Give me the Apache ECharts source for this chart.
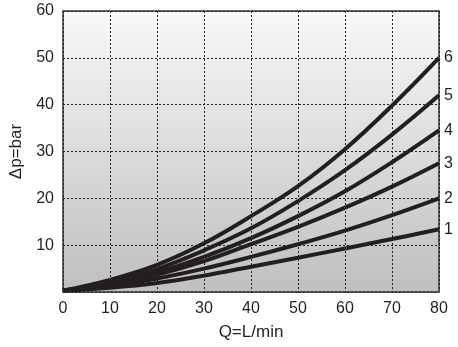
<!DOCTYPE html>
<html>
<head>
<meta charset="utf-8">
<script src="https://cdn.jsdelivr.net/npm/echarts@6/dist/echarts.min.js"></script>
<style>
  html, body { margin: 0; padding: 0; background: #fff; }
  #chart { width: 458px; height: 347px; }
</style>
</head>
<body>
<div id="chart"></div>
<script>
// flow Q (L/min)
const flow = [0, 10, 20, 30, 40, 50, 60, 70, 80];
// pressure drop curves
const curve1 = [0.3, 0.9, 1.9, 3.5, 5.4, 7.3, 9.3, 11.3, 13.4];
const curve2 = [0.3, 1.3, 2.9, 5.0, 7.5, 10.2, 13.1, 16.4, 20.0];
const curve3 = [0.3, 1.6, 3.7, 6.6, 10.2, 13.9, 18.0, 22.5, 27.5];
const curve4 = [0.3, 1.8, 4.2, 7.5, 11.5, 16.2, 21.5, 27.7, 34.5];
const curve5 = [0.3, 2.0, 4.9, 8.9, 13.6, 19.4, 26.0, 33.6, 42.0];
const curve6 = [0.3, 2.6, 5.8, 10.4, 16.2, 22.6, 30.5, 39.8, 50.0];
const curveNames = ['1', '2', '3', '4', '5', '6'];
const curves = [curve1, curve2, curve3, curve4, curve5, curve6];

const chart = echarts.init(document.getElementById('chart'));

const textColor = '#231f20';
const font = 'Liberation Sans, Arial, sans-serif';

chart.setOption({
    animation: false,
    grid: {
        left: 63,
        top: 11,
        right: 19,
        bottom: 55,
        show: true,
        borderColor: '#333',
        borderWidth: 1.5,
        backgroundColor: {
            type: 'linear', x: 0, y: 0, x2: 0, y2: 1,
            colorStops: [
                { offset: 0, color: '#f8f8f8' },
                { offset: 1, color: '#bfbfbf' }
            ]
        }
    },
    xAxis: {
        type: 'value',
        min: 0,
        max: 80,
        interval: 10,
        name: 'Q=L/min',
        nameLocation: 'middle',
        nameGap: 32,
        nameTextStyle: { color: textColor, fontSize: 17, fontFamily: font },
        axisLine: { show: false },
        axisTick: { show: false },
        axisLabel: { color: textColor, fontSize: 16, fontFamily: font, margin: 9 },
        splitLine: { lineStyle: { color: '#222', type: [2, 2], width: 1 } }
    },
    yAxis: {
        type: 'value',
        min: 0,
        max: 60,
        interval: 10,
        name: 'Δp=bar',
        nameLocation: 'middle',
        nameGap: 30,
        nameTextStyle: { color: textColor, fontSize: 17, fontFamily: font },
        axisLine: { show: false },
        axisTick: { show: false },
        axisLabel: {
            color: textColor, fontSize: 16, fontFamily: font, margin: 9,
            formatter: v => (v === 0 ? '' : v)
        },
        splitLine: { lineStyle: { color: '#222', type: [2, 2], width: 1 } }
    },
    series: curves.map((c, i) => ({
        name: curveNames[i],
        type: 'line',
        smooth: 0.4,
        symbol: 'none',
        data: flow.map((q, j) => [q, c[j]]),
        lineStyle: { color: textColor, width: 4 },
        endLabel: {
            show: true,
            formatter: '{a}',
            color: textColor,
            fontSize: 16,
            fontFamily: font,
            distance: 5
        }
    }))
});
</script>
</body>
</html>
